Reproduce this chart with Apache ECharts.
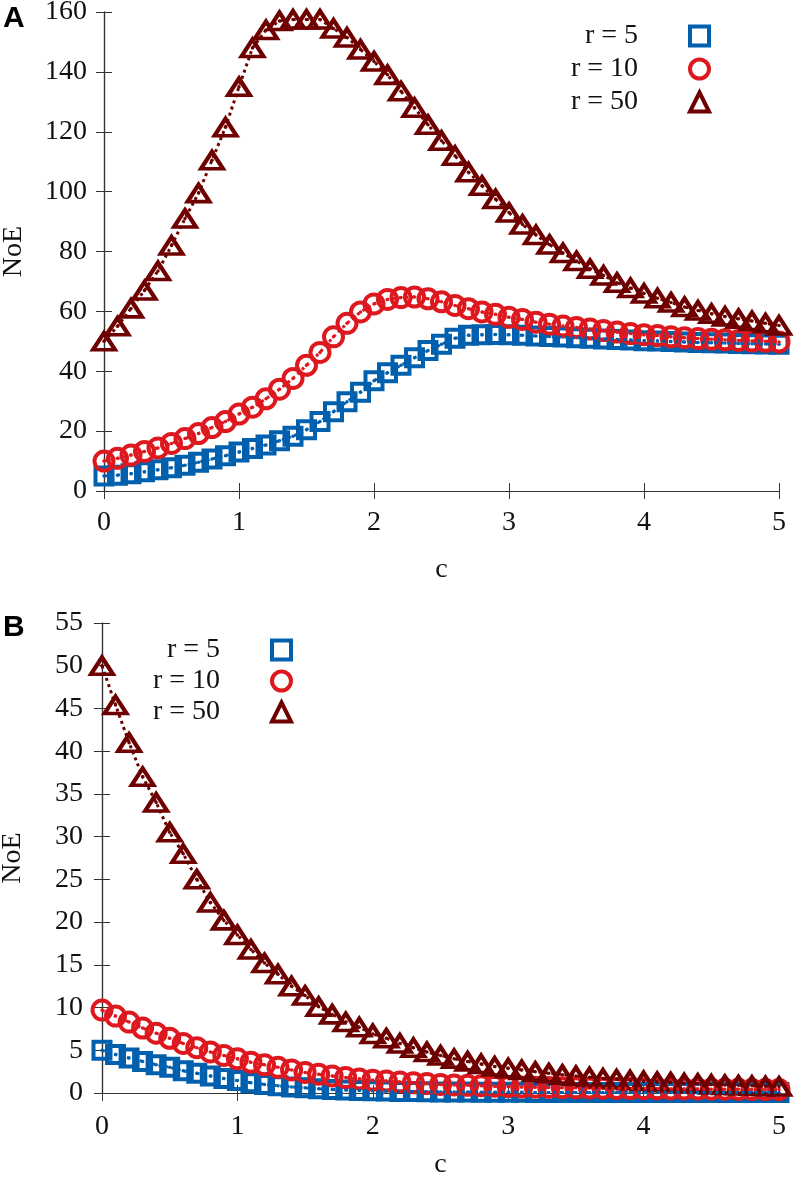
<!DOCTYPE html>
<html>
<head>
<meta charset="utf-8">
<script src="https://cdn.jsdelivr.net/npm/echarts@6/dist/echarts.min.js"></script>
<style>
html,body{margin:0;padding:0;background:#fff;}
#chart{width:794px;height:1177px;}
</style>
</head>
<body>
<div id="chart"></div>
<script>
// x values (c)
const cVals = [0,0.1,0.2,0.3,0.4,0.5,0.6,0.7,0.8,0.9,1.0,1.1,1.2,1.3,1.4,1.5,1.6,1.7,1.8,1.9,2.0,2.1,2.2,2.3,2.4,2.5,2.6,2.7,2.8,2.9,3.0,3.1,3.2,3.3,3.4,3.5,3.6,3.7,3.8,3.9,4.0,4.1,4.2,4.3,4.4,4.5,4.6,4.7,4.8,4.9,5.0];

// Panel A
const A_r5 = [5,5.3,5.8,6.4,7.1,7.8,8.6,9.6,10.7,11.8,13,14.2,15.4,16.8,18.3,20.5,23.2,26.5,29.8,33,36.8,39.5,42,44.5,46.9,49,51,52,52.2,52.3,52.2,52,51.8,51.6,51.4,51.2,51,50.8,50.6,50.4,50.2,50.1,49.9,49.8,49.6,49.5,49.4,49.3,49.2,49.1,49];
const A_r10 = [10,10.9,12,13.2,14.4,15.9,17.5,19.2,21.2,23.2,25.7,28,30.8,34,37.6,42,46.3,51.5,56,59.8,62.5,64,64.6,64.8,64.2,63.2,62,60.9,59.8,59,58,57.3,56.4,55.7,55.1,54.6,54.1,53.6,53.1,52.6,52.2,51.9,51.5,51.2,50.9,50.7,50.5,50.3,50.1,50,49.8];
const A_r50 = [50,55,61,67,73.5,82,91,99.5,110.5,121.5,135,148,154,157,157.5,157.5,157.5,154.5,151.5,147.5,143.5,139,133.5,128,122.3,117,112,106.5,102,97.5,93,89,85.5,82.3,79.5,76.8,74.2,72,69.6,67.8,66,64.4,63,61.5,60.3,59.2,58.3,57.5,56.8,56,55.3];

// Panel B
const B_r5 = [5,4.5,4.1,3.7,3.3,3.0,2.6,2.3,2.0,1.7,1.45,1.2,1.0,0.85,0.7,0.6,0.5,0.42,0.36,0.3,0.26,0.22,0.19,0.17,0.15,0.13,0.12,0.11,0.1,0.09,0.08,0.08,0.07,0.07,0.07,0.06,0.06,0.06,0.06,0.05,0.05,0.05,0.05,0.05,0.05,0.05,0.05,0.05,0.05,0.05,0.05];
const B_r10 = [9.7,9.0,8.3,7.6,7.0,6.4,5.8,5.3,4.8,4.4,4.0,3.6,3.3,3.0,2.7,2.4,2.2,2.0,1.8,1.65,1.5,1.4,1.3,1.2,1.1,1.0,0.95,0.9,0.85,0.8,0.75,0.7,0.68,0.65,0.62,0.6,0.58,0.56,0.54,0.52,0.5,0.49,0.48,0.47,0.46,0.45,0.44,0.43,0.42,0.41,0.4];
const B_r50 = [50,45.4,41,37,34,30.5,28,25,22.3,20.2,18.5,16.8,15.2,13.9,12.5,11.4,10.1,9.2,8.3,7.7,6.9,6.4,5.8,5.3,4.8,4.4,4.0,3.7,3.4,3.1,2.9,2.7,2.5,2.3,2.15,2.0,1.85,1.7,1.6,1.5,1.4,1.3,1.25,1.15,1.1,1.0,0.95,0.9,0.85,0.8,0.75];

const seriesNames = ['r = 5','r = 10','r = 50'];
const xTicks = {min:0, max:5, interval:1};
const yTicksA = {min:0, max:160, interval:20};
const yTicksB = {min:0, max:55, interval:5};

const COLORS = ['#0060ad','#dd181f','#6e0000'];
const SYMBOLS = ['rect','circle','triangle'];
const SIZES = [17, 19, [22,17]];
const FONT = 'Liberation Serif';
const FS = 28;

function zip(vals){ return cVals.map((x,i)=>[x, vals[i]]); }

function seriesFor(axisIdx, idx, vals){
  const data = zip(vals);
  const col = COLORS[idx];
  return [
    {type:'line', name: seriesNames[idx]+' line', xAxisIndex: axisIdx, yAxisIndex: axisIdx, data,
      showSymbol:false, symbol:'none', silent:true, animation:false,
      lineStyle:{color:col, width:3, type:[3,3.5], cap:'butt', opacity:1}},
    {type:'scatter', name: seriesNames[idx], xAxisIndex: axisIdx, yAxisIndex: axisIdx, data,
      symbol: SYMBOLS[idx], symbolSize: SIZES[idx], clip:false, silent:true, animation:false,
      itemStyle:{color:'rgba(255,255,255,0)', borderColor:col, borderWidth:4, opacity:1}},
    {type:'scatter', name: seriesNames[idx]+' dot', xAxisIndex: axisIdx, yAxisIndex: axisIdx, data,
      symbol:'circle', symbolSize:3.5, clip:false, silent:true, animation:false,
      itemStyle:{color:col, opacity:1}}
  ];
}

const axisLineStyle = {show:true, lineStyle:{color:'#333', width:1.2}};
function xAxes(grid, labelMargin){
  return [
    Object.assign({type:'value', gridIndex:grid, position:'bottom', axisLine:axisLineStyle,
      axisTick:{inside:true, length:8, lineStyle:{color:'#333'}},
      axisLabel:{margin:labelMargin, color:'#111', fontFamily:FONT, fontSize:FS},
      splitLine:{show:false}, name:'c', nameLocation:'middle',
      nameGap: grid===0 ? 65 : 58, nameTextStyle:{color:'#111', fontFamily:FONT, fontSize:FS}}, xTicks),
    Object.assign({type:'value', gridIndex:grid, position:'top', axisLine:axisLineStyle,
      axisTick:{inside:true, length:8, lineStyle:{color:'#333'}},
      axisLabel:{show:false}, splitLine:{show:false}}, xTicks)
  ];
}
function yAxes(grid, ticks, labelMargin, nameGap){
  return [
    Object.assign({type:'value', gridIndex:grid, position:'left', axisLine:axisLineStyle,
      axisTick:{inside:true, length:8, lineStyle:{color:'#333'}},
      axisLabel:{margin:labelMargin, color:'#111', fontFamily:FONT, fontSize:FS},
      splitLine:{show:false}, name:'NoE', nameLocation:'middle', nameGap:nameGap,
      nameTextStyle:{color:'#111', fontFamily:FONT, fontSize:FS}}, ticks),
    Object.assign({type:'value', gridIndex:grid, position:'right', axisLine:axisLineStyle,
      axisTick:{inside:true, length:8, lineStyle:{color:'#333'}},
      axisLabel:{show:false}, splitLine:{show:false}}, ticks)
  ];
}

const series = [];
[A_r5, A_r10, A_r50].forEach((v,i)=>series.push(...seriesFor(0, i, v)));
[B_r5, B_r10, B_r50].forEach((v,i)=>series.push(...seriesFor(2, i, v)));

const legendCommon = {
  orient:'vertical', align:'right', itemWidth:19, itemHeight:19,
  selectedMode:false,
  textStyle:{fontFamily:FONT, fontSize:FS, color:'#111', lineHeight:22, padding:[0,47,0,0]},
  itemStyle:{borderWidth:4, opacity:1},
  data: seriesNames.map((n,i)=>({name:n, icon:SYMBOLS[i]}))
};

const option = {
  backgroundColor:'#fff',
  animation:false,
  grid:[
    {left:104, top:12, width:675, height:479, containLabel:false, outerBoundsMode:'none'},
    {left:102, top:623, width:677, height:470, containLabel:false, outerBoundsMode:'none'}
  ],
  xAxis:[...xAxes(0, 18), ...xAxes(1, 20)],
  yAxis:[...yAxes(0, yTicksA, 17, 76), ...yAxes(1, yTicksB, 19, 75)],
  legend:[
    Object.assign({}, legendCommon, {right:78, top:17, itemGap:5}),
    Object.assign({}, legendCommon, {right:496, top:631, itemGap:3})
  ],
  graphic:[
    {type:'text', left:3, top:4, style:{text:'A', fontSize:30, fontWeight:'bold', fontFamily:'Liberation Sans', fill:'#000'}},
    {type:'text', left:3, top:613, style:{text:'B', fontSize:30, fontWeight:'bold', fontFamily:'Liberation Sans', fill:'#000'}}
  ],
  series
};

const chart = echarts.init(document.getElementById('chart'), null, {renderer:'canvas'});
chart.setOption(option);
</script>
</body>
</html>
